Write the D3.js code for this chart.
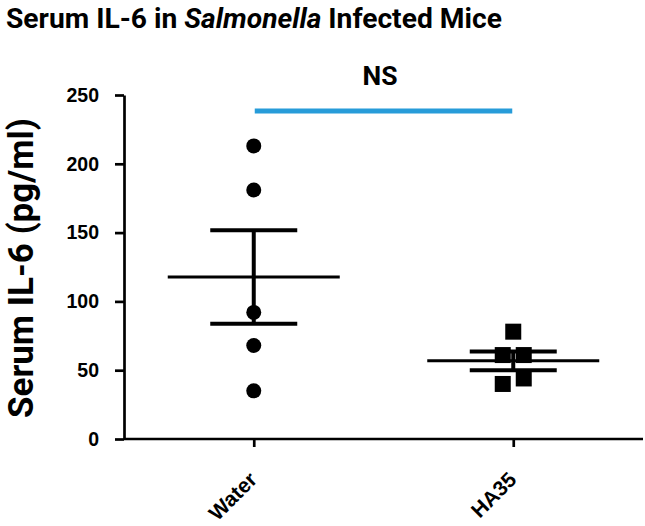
<!DOCTYPE html>
<html>
<head>
<meta charset="utf-8">
<script src="https://cdn.jsdelivr.net/npm/d3@7"></script>
<style>
  body { margin: 0; background: #fff; }
  svg { display: block; }
  .tick text { font-family: "Liberation Sans", Arial, sans-serif; font-weight: bold; fill: #000; }
  .domain, .tick line { stroke: #000; stroke-width: 2.7; }
  .calibri { font-family: Roboto, "Open Sans", sans-serif; font-weight: bold; }
</style>
</head>
<body>
<div id="chart"></div>
<script>
const width = 645;
const height = 526;

const groups = ['Water', 'HA35'];
const waterValues = [213, 181, 92, 68, 35];
const ha35Values = [78, 61, 61, 40, 44];
const yTicks = [0, 50, 100, 150, 200, 250];

const plotLeft = 124, plotRight = 643, plotTop = 95, plotBottom = 439;

const svg = d3.select('#chart').append('svg')
  .attr('width', width)
  .attr('height', height);

const x = d3.scalePoint().domain(groups).range([plotLeft, plotRight]).padding(0.5);
const y = d3.scaleLinear().domain([0, 250]).range([plotBottom, plotTop]);

// squeeze a text horizontally to a given width (narrow Calibri look)
function squeeze(sel, tx, ty, w, rot) {
  const natural = sel.node().getComputedTextLength();
  sel.attr('transform', translate(tx, ty) + (rot ? ' rotate(' + rot + ')' : '') + ' scale(' + (w / natural) + ',1)');
}

// title: sized so it spans the same width as the original
const title = svg.append('text')
  .attr('class', 'calibri')
  .attr('x', 6).attr('y', 28)
  .style('font-size', '30px');
title.append('tspan').text('Serum IL-6 in ');
title.append('tspan').style('font-style', 'italic').text('Salmonella');
title.append('tspan').text(' Infected Mice');
title.style('font-size', (30 * 496 / title.node().getComputedTextLength()) + 'px');

// y axis title
const yTitle = svg.append('text')
  .attr('class', 'calibri')
  .attr('text-anchor', 'middle')
  .style('font-size', '35px')
  .text('Serum IL-6 (pg/ml)');
squeeze(yTitle, 33, 268, 300, -90);

// axes
svg.append('g')
  .attr('transform', translate(plotLeft, 0))
  .call(d3.axisLeft(y).tickValues(yTicks).tickSize(9).tickSizeOuter(0).tickPadding(16))
  .call(g => g.selectAll('.tick text').style('font-size', '19.5px'));

const xAxis = svg.append('g')
  .attr('transform', translate(0, plotBottom))
  .call(d3.axisBottom(x).tickSize(8).tickSizeOuter(0));
xAxis.select('.domain').attr('d', 'M' + plotLeft + ',0H' + plotRight);
xAxis.selectAll('.tick text')
  .attr('text-anchor', 'end')
  .attr('x', 0).attr('y', 0).attr('dy', 0)
  .attr('transform', translate(4, 42) + ' rotate(-45)')
  .style('font-size', '21px');

// points, spread sideways when they overlap
const series = [
  { name: 'Water', values: waterValues, shape: 'circle' },
  { name: 'HA35', values: ha35Values, shape: 'square' }
];

function spread(values) {
  const sorted = values.map((v, i) => ({ v, i })).sort((a, b) => a.v - b.v);
  const clusters = [];
  sorted.forEach(p => {
    const last = clusters[clusters.length - 1];
    if (last && y(last[last.length - 1].v) - y(p.v) < 16) last.push(p);
    else clusters.push([p]);
  });
  const out = [];
  clusters.forEach(c => c.forEach((p, k) => out.push({ v: p.v, dx: (k - (c.length - 1) / 2) * 21 })));
  return out;
}

series.forEach(s => {
  const cx = x(s.name);
  const pts = spread(s.values);
  const g = svg.append('g');
  if (s.shape === 'circle') {
    g.selectAll('circle').data(pts).enter().append('circle')
      .attr('cx', d => cx + d.dx)
      .attr('cy', d => y(d.v))
      .attr('r', 7.5)
      .attr('fill', '#000');
  } else {
    g.selectAll('rect').data(pts).enter().append('rect')
      .attr('x', d => cx + d.dx - 8)
      .attr('y', d => y(d.v) - 8)
      .attr('width', 16).attr('height', 16)
      .attr('fill', '#000');
  }

  const mean = d3.mean(s.values);
  const sem = d3.deviation(s.values) / Math.sqrt(s.values.length);

  g.append('line')
    .attr('x1', cx - 86).attr('x2', cx + 86)
    .attr('y1', y(mean)).attr('y2', y(mean))
    .attr('stroke', '#000').attr('stroke-width', 3);
  g.append('line')
    .attr('x1', cx).attr('x2', cx)
    .attr('y1', y(mean + sem)).attr('y2', y(mean - sem))
    .attr('stroke', '#000').attr('stroke-width', 4);
  [mean + sem, mean - sem].forEach(v => {
    g.append('line')
      .attr('x1', cx - 43.5).attr('x2', cx + 43.5)
      .attr('y1', y(v)).attr('y2', y(v))
      .attr('stroke', '#000').attr('stroke-width', 4);
  });
});

// significance bar
svg.append('line')
  .attr('x1', x('Water') + 1).attr('x2', x('HA35') - 1)
  .attr('y1', 111).attr('y2', 111)
  .attr('stroke', '#279cd9').attr('stroke-width', 5);
const ns = svg.append('text')
  .attr('class', 'calibri')
  .attr('text-anchor', 'middle')
  .style('font-size', '25px')
  .text('NS');
squeeze(ns, 380, 85, 35);

function translate(a, b) {
  return 'translate(' + a + ',' + b + ')';
}
</script>
</body>
</html>
